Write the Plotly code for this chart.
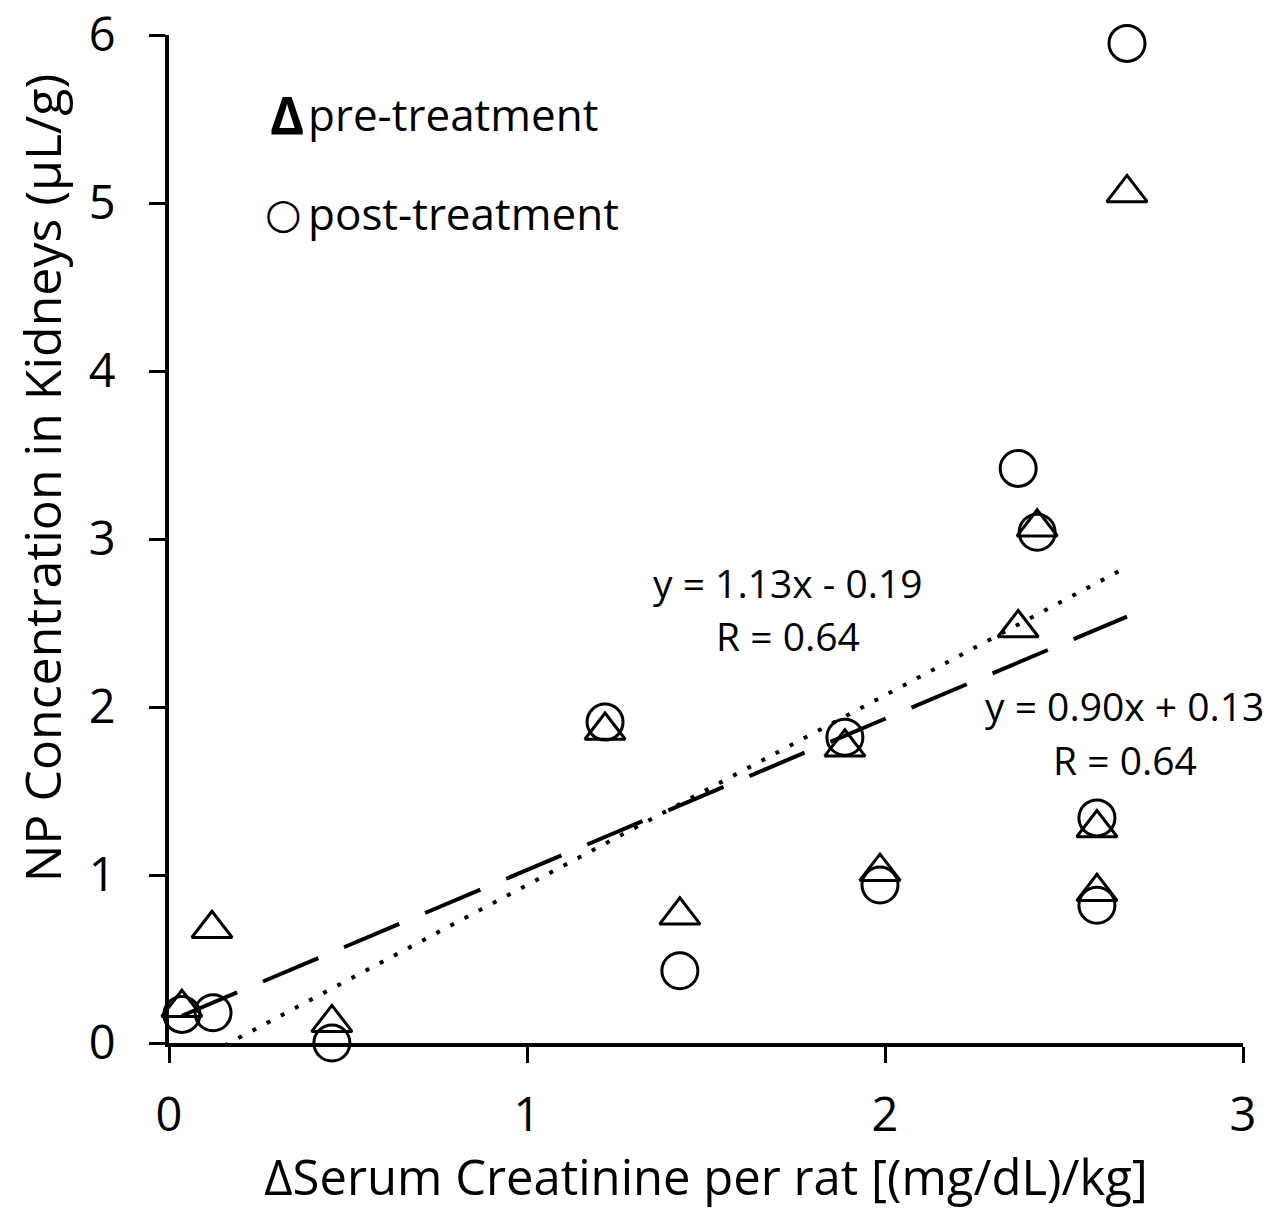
import plotly.graph_objects as go

# ---- data ----
pre_x = [0.036, 0.12, 0.455, 1.218, 1.427, 1.888, 1.986, 2.372, 2.425, 2.592, 2.592, 2.676]
pre_y = [0.21, 0.68, 0.12, 1.86, 0.76, 1.76, 1.02, 2.47, 3.07, 1.28, 0.90, 5.06]
post_x = [0.036, 0.123, 0.455, 1.218, 1.427, 1.888, 1.986, 2.372, 2.425, 2.592, 2.592, 2.676]
post_y = [0.17, 0.18, 0.0, 1.91, 0.43, 1.82, 0.94, 3.42, 3.04, 1.34, 0.82, 5.95]

pre_fit = (0.90, 0.13)     # slope, intercept
post_fit = (1.13, -0.19)
pre_r = 0.64
post_r = 0.64

x_ticks = [0, 1, 2, 3]
y_ticks = [0, 1, 2, 3, 4, 5, 6]

FONT = "Open Sans"

def fit_line(xs, coef):
    x0, x1 = min(xs), max(xs)
    return [x0, x1], [coef[0] * x0 + coef[1], coef[0] * x1 + coef[1]]

fig = go.Figure()

lx, ly = fit_line(pre_x, pre_fit)
fig.add_trace(go.Scatter(x=lx, y=ly, mode="lines", showlegend=False,
                         line=dict(color="black", width=4, dash="60px,28px")))
lx, ly = fit_line(post_x, post_fit)
fig.add_trace(go.Scatter(x=lx, y=ly, mode="lines", showlegend=False,
                         line=dict(color="black", width=4, dash="4px,12px")))

fig.add_trace(go.Scatter(x=pre_x, y=pre_y, mode="markers", name="pre-treatment",
                         showlegend=False, cliponaxis=False,
                         marker=dict(symbol="triangle-up-open", size=35, color="black",
                                     line=dict(width=3, color="black"))))
fig.add_trace(go.Scatter(x=post_x, y=post_y, mode="markers", name="post-treatment",
                         showlegend=False, cliponaxis=False,
                         marker=dict(symbol="circle-open", size=36, color="black",
                                     line=dict(width=3, color="black"))))

ann_font = dict(family=FONT, size=39, color="black")
fig.add_annotation(x=1.729, y=2.744, xref="x", yref="y", showarrow=False,
                   text=f"y = {post_fit[0]:.2f}x - {abs(post_fit[1]):.2f}", font=ann_font)
fig.add_annotation(x=1.729, y=2.423, xref="x", yref="y", showarrow=False,
                   text=f"R = {post_r:.2f}", font=ann_font)
fig.add_annotation(x=2.670, y=2.006, xref="x", yref="y", showarrow=False,
                   text=f"y = {pre_fit[0]:.2f}x + {pre_fit[1]:.2f}", font=ann_font)
fig.add_annotation(x=2.670, y=1.685, xref="x", yref="y", showarrow=False,
                   text=f"R = {pre_r:.2f}", font=ann_font)

# legend drawn as text, as in the reference (symbol glyph + label)
leg_font = dict(family=FONT, size=44, color="black")
fig.add_annotation(x=0.1099, y=0.9226, xref="paper", yref="paper", showarrow=False,
                   xanchor="center", yanchor="middle", text="<b>Δ</b>",
                   font=dict(family=FONT, size=52, color="black"))
fig.add_annotation(x=0.1280, y=0.9216, xref="paper", yref="paper", showarrow=False,
                   xanchor="left", yanchor="middle", text="pre-treatment", font=leg_font)
fig.add_annotation(x=0.1062, y=0.8225, xref="paper", yref="paper", showarrow=False,
                   xanchor="center", yanchor="middle", text="○",
                   font=dict(family="DejaVu Sans", size=42, color="black"))
fig.add_annotation(x=0.1280, y=0.8234, xref="paper", yref="paper", showarrow=False,
                   xanchor="left", yanchor="middle", text="post-treatment", font=leg_font)

# y-axis title (placed as rotated text, as in the reference it is not centred on the axis)
fig.add_annotation(x=-0.118, y=0.5605, xref="paper", yref="paper", showarrow=False,
                   textangle=-90, xanchor="center", yanchor="middle",
                   text="NP Concentration in Kidneys (µL/g)",
                   font=dict(family=FONT, size=50, color="black"))

fig.update_layout(
    template="none",
    width=1274, height=1209,
    margin=dict(l=169, r=31, t=35, b=166),
    paper_bgcolor="white", plot_bgcolor="white",
    font=dict(family=FONT, color="black"),
    xaxis=dict(range=[0, 3], tickvals=x_ticks, showgrid=False, zeroline=False,
               automargin=False, ticklabeloverflow="allow",
               showline=True, linecolor="black", linewidth=4,
               ticks="outside", ticklen=16, tickwidth=3, tickcolor="black",
               tickfont=dict(family=FONT, size=47), ticklabelstandoff=12,
               title=dict(text="ΔSerum Creatinine per rat [(mg/dL)/kg]",
                          font=dict(family=FONT, size=49), standoff=8)),
    yaxis=dict(range=[0, 6], tickvals=y_ticks, showgrid=False, zeroline=False,
               automargin=False, ticklabeloverflow="allow",
               showline=True, linecolor="black", linewidth=4,
               ticks="outside", ticklen=16, tickwidth=3, tickcolor="black",
               tickfont=dict(family=FONT, size=47), ticklabelstandoff=24),
)

fig.write_html("out.html", config={"displayModeBar": False})

# remove the default page margin so the figure sits at the window's top-left corner
with open("out.html", "r", encoding="utf-8") as f:
    html = f.read()
html = html.replace("<body>", '<body style="margin:0;padding:0;">', 1)
with open("out.html", "w", encoding="utf-8") as f:
    f.write(html)
